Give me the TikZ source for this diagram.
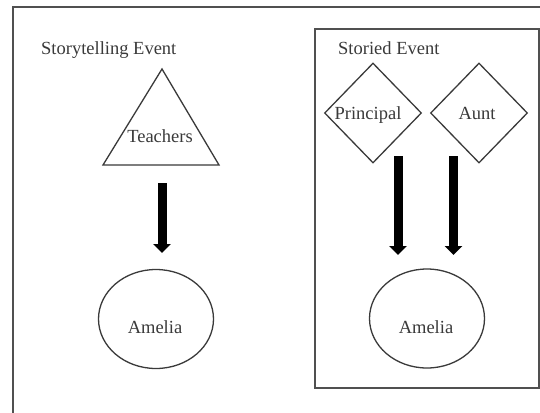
\documentclass[tikz,border=0pt]{standalone}
\usepackage{fontspec}
\setmainfont{Liberation Serif}
\usetikzlibrary{shapes.geometric,arrows.meta}
\definecolor{ink}{HTML}{3A3A3A}
\definecolor{frame}{HTML}{505050}
\tikzset{
  lbl/.style={font=\fontsize{18.5}{20}\selectfont, text=ink, inner sep=0pt},
  shapeline/.style={draw=ink, line width=1.3pt},
  oval/.style={shapeline, ellipse, minimum width=115pt, minimum height=99pt, inner sep=0pt},
  rhomb/.style={shapeline, diamond, minimum width=97pt, minimum height=100pt, inner sep=0pt},
  bigarrow/.style={draw=black, line width=9pt, -{Triangle[width=17pt,length=9pt]}},
  framebox/.style={draw=frame, line width=2pt}
}
\begin{document}
\begin{tikzpicture}[x=1pt,y=-1pt]
\useasboundingbox (0,0) rectangle (540,412);
\fill[white] (0,0) rectangle (540,412);
% outer frame (cut off at right and bottom)
\draw[framebox] (13,416) -- (13,7) -- (545,7);
% inner box
\draw[framebox] (315,29) rectangle (539,388);
% titles
\node[lbl, anchor=base west] (t1) at (41,54) {Storytelling Event};
\node[lbl, anchor=base west] (t2) at (338,54) {Storied Event};
% left: teachers triangle
\coordinate (triA) at (162,69);
\coordinate (triB) at (103,165);
\coordinate (triC) at (219,165);
\draw[shapeline, line join=miter] (triA) -- (triB) -- (triC) -- cycle;
\node[lbl, anchor=base] (teachers) at (160,142) {Teachers};
\node[oval] (am1) at (156,319) {};
\node[lbl, anchor=base] (am1t) at (155,333) {Amelia};
% right: diamonds
\node[rhomb] (pr) at (373,113) {};
\node[lbl, anchor=base] (prt) at (368,119) {Principal};
\node[rhomb] (au) at (479,113) {};
\node[lbl, anchor=base] (aut) at (477,119) {Aunt};
\node[oval] (am2) at (427,318.5) {};
\node[lbl, anchor=base] (am2t) at (426,333) {Amelia};
% arrows
\coordinate (a1s) at (162,183);
\coordinate (a1e) at (162,253);
\coordinate (a2s) at (398,156);
\coordinate (a2e) at (398,255);
\coordinate (a3s) at (453.5,156);
\coordinate (a3e) at (453.5,255);
\draw[bigarrow] (a1s) -- (a1e);
\draw[bigarrow] (a2s) -- (a2e);
\draw[bigarrow] (a3s) -- (a3e);
\end{tikzpicture}
\end{document}
